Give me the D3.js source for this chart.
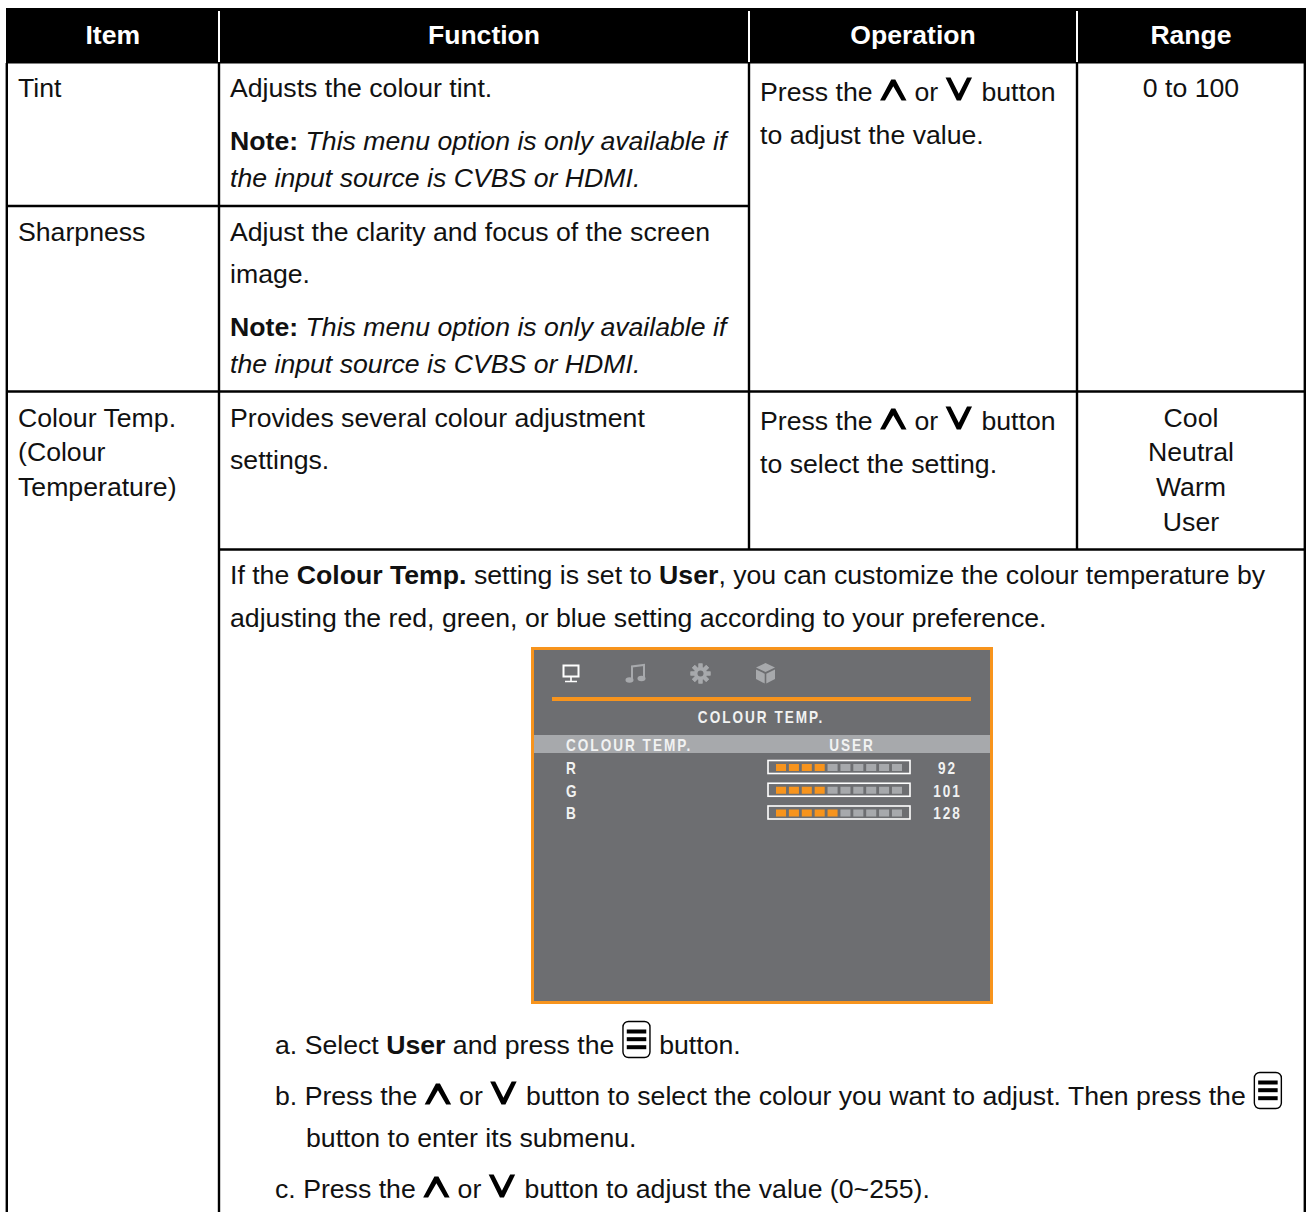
<!DOCTYPE html>
<html><head><meta charset="utf-8">
<script src="https://cdn.jsdelivr.net/npm/d3@7"></script>
<style>html,body{margin:0;padding:0;background:#fff;overflow:hidden}svg{display:block}</style>
</head><body><div id="c"></div>
<script>
const headers = ["Item","Function","Operation","Range"];
// run syntax: plain, {b}, {i}, {icon}
const UP={icon:"up"},DN={icon:"down"},MENU={icon:"menu"};
const note=[{b:"Note: "},{i:"This menu option is only available if"}];
const note2=[{i:"the input source is CVBS or HDMI."}];
const itemText=[["Tint"],["Sharpness"],["Colour Temp."],["(Colour"],["Temperature)"]];
const funcText=[["Adjusts the colour tint."],note,note2,["Adjust the clarity and focus of the screen"],["image."],note,note2,["Provides several colour adjustment"],["settings."]];
const opText=[["Press the ",UP," or ",DN," button"],["to adjust the value."],["Press the ",UP," or ",DN," button"],["to select the setting."]];
const rangeText=["0 to 100","Cool","Neutral","Warm","User"];
const wideText=[
 ["If the ",{b:"Colour Temp."}," setting is set to ",{b:"User"},", you can customize the colour temperature by"],
 ["adjusting the red, green, or blue setting according to your preference."],
 ["a. Select ",{b:"User"}," and press the ",MENU," button."],
 ["b. Press the ",UP," or ",DN," button to select the colour you want to adjust. Then press the ",MENU],
 ["button to enter its submenu."],
 ["c. Press the ",UP," or ",DN," button to adjust the value (0~255)."]];
const osdTitle="COLOUR TEMP.";
const osdRow=["COLOUR TEMP.","USER"];
const channels=["R","G","B"];
const channelValues=[92,101,128];
const segmentCount=[0,1,2,3,4,5,6,7,8,9];

const W=1306,H=1212,FS=26.66,INK="#111";
const svg=d3.select("#c").append("svg").attr("width",W).attr("height",H).attr("viewBox",`0 0 ${W} ${H}`);
svg.append("rect").attr("width",W).attr("height",H).attr("fill","#fff");
const FONT="'Liberation Sans',Arial,sans-serif";

// table frame
const colX=[6.5,219,749,1077,1305];
svg.append("rect").attr("x",6).attr("y",8).attr("width",W-6).attr("height",55.5).attr("fill","#000");
colX.slice(1,4).forEach(x=>svg.append("line").attr("x1",x).attr("x2",x).attr("y1",11).attr("y2",62).attr("stroke","#fff").attr("stroke-width",2));
const rules=[[6,749,206],[6,W,391.5],[219,W,549.5]];
rules.forEach(r=>svg.append("line").attr("x1",r[0]).attr("x2",r[1]).attr("y1",r[2]).attr("y2",r[2]).attr("stroke","#000").attr("stroke-width",2.4));
const vert=[[6.8,63,H],[219,63,H],[749,63,549],[1077,63,549],[1304.8,63,H]];
vert.forEach(v=>svg.append("line").attr("x1",v[0]).attr("x2",v[0]).attr("y1",v[1]).attr("y2",v[2]).attr("stroke","#000").attr("stroke-width",2.4));

headers.forEach((h,i)=>svg.append("text").attr("x",(colX[i]+colX[i+1])/2).attr("y",44).attr("text-anchor","middle")
  .attr("font-family",FONT).attr("font-weight",700).attr("font-size",FS-.1).attr("fill","#fff").text(h));

function icon(g,kind,x,base){
  if(kind==="menu"){
    const top=base-32.5;
    g.append("rect").attr("x",x+1.2).attr("y",top).attr("width",27).attr("height",36).attr("rx",5.5).attr("fill","none").attr("stroke","#000").attr("stroke-width",1.4);
    [8.5,16.2,24.2].forEach(d=>g.append("rect").attr("x",x+5).attr("y",top+d-.5).attr("width",19.5).attr("height",4).attr("fill","#000"));
    return 30;
  }
  const w=26.5,h=kind==="up"?21:23,foot=5,inner=6.8;
  const p=d3.path();
  const y0=kind==="up"?base-.5:base-h-.5;
  const y1=kind==="up"?base-h-.5:base-.5;
  const dir=kind==="up"?1:-1;
  p.moveTo(x,y0);p.lineTo(x+w/2-2,y1);p.lineTo(x+w/2+2,y1);p.lineTo(x+w,y0);p.lineTo(x+w-foot,y0);p.lineTo(x+w/2,y1+dir*inner);p.lineTo(x+foot,y0);p.closePath();
  g.append("path").attr("d",p.toString()).attr("fill","#000");
  return kind==="up"?27:28.5;
}
function line(runs,x,y){
  let cx=x;
  runs.forEach(r=>{
    if(r.icon){cx+=icon(svg,r.icon,cx,y);return;}
    const s=typeof r==="string"?r:(r.b||r.i);
    const t=svg.append("text").attr("x",cx).attr("y",y).attr("font-family",FONT).attr("font-size",FS).attr("fill",INK).style("white-space","pre").text(s);
    if(r.b)t.attr("font-weight",700);
    if(r.i)t.attr("font-style","italic");
    cx+=t.node().getComputedTextLength();
  });
}
const itemY=[97,241,427,461,496];
itemText.forEach((l,i)=>line(l,18,itemY[i]));
const funcY=[97,150,187,241,283,336,373,427,469];
funcText.forEach((l,i)=>line(l,230,funcY[i]));
const opY=[101,144,430,473];
opText.forEach((l,i)=>line(l,760,opY[i]));
const rangeY=[97,427,461,496,531];
rangeText.forEach((s,i)=>svg.append("text").attr("x",1191).attr("y",rangeY[i]).attr("text-anchor","middle").attr("font-family",FONT).attr("font-size",FS).attr("fill",INK).text(s));
const wideX=[230,230,275,275,306,275],wideY=[584,627,1054,1105,1147,1198];
wideText.forEach((l,i)=>line(l,wideX[i],wideY[i]));

// OSD screenshot
const ORANGE="#f7941d",GREY="#6d6e71",LIGHT="#a7a9ac";
svg.append("rect").attr("x",532.5).attr("y",648.5).attr("width",459).attr("height",354).attr("fill",GREY).attr("stroke",ORANGE).attr("stroke-width",3);
svg.append("rect").attr("x",552).attr("y",697).attr("width",419).attr("height",4).attr("fill",ORANGE);
svg.append("rect").attr("x",534).attr("y",735).attr("width",456).attr("height",18).attr("fill",LIGHT);
function osdText(s,x,y,anchor){svg.append("text").attr("transform",`translate(${x},${y}) scale(0.85,1)`).attr("text-anchor",anchor).attr("font-family",FONT).attr("font-weight",700).attr("font-size",16).attr("letter-spacing",2.35).attr("fill","#f1f2f2").text(s);}
osdText(osdTitle,761,723,"middle");
osdText(osdRow[0],566,751,"start");
osdText(osdRow[1],852,751,"middle");

// OSD icons
const ig=svg.append("g");
ig.append("rect").attr("x",563.5).attr("y",665.5).attr("width",15).attr("height",11).attr("fill","none").attr("stroke","#fff").attr("stroke-width",2);
ig.append("path").attr("d","M571 677V681M565 681.5H577").attr("stroke","#fff").attr("stroke-width",1.6);
ig.append("path").attr("d","M632 680V666.5L644 665V678").attr("fill","none").attr("stroke",LIGHT).attr("stroke-width",2);
ig.append("ellipse").attr("cx",629.5).attr("cy",680).attr("rx",4).attr("ry",2.8).attr("fill",LIGHT);
ig.append("ellipse").attr("cx",641.5).attr("cy",678.5).attr("rx",4).attr("ry",2.8).attr("fill",LIGHT);
d3.range(8).forEach(i=>ig.append("rect").attr("x",698.5).attr("y",663.5).attr("width",4).attr("height",20).attr("fill",LIGHT).attr("transform",`rotate(${i*45} 700.5 673.5)`));
ig.append("circle").attr("cx",700.5).attr("cy",673.5).attr("r",6.5).attr("fill",LIGHT);
ig.append("circle").attr("cx",700.5).attr("cy",673.5).attr("r",3).attr("fill",GREY);
ig.append("path").attr("d","M765.5 663L775 667.5L765.5 672L756 667.5Z M756 669.5L764.7 673.7V683.5L756 679Z M775 669.5L766.3 673.7V683.5L775 679Z").attr("fill",LIGHT);

// channel bars
const rowY=d3.scalePoint().domain(channels).range([767,812.5]);
const segX=d3.scaleBand().domain(segmentCount).range([776,902]).paddingInner(0.22).paddingOuter(0);
const filled=d3.scaleLinear().domain([0,255]).range([0,segmentCount.length]);
channels.forEach((c,i)=>{
  const y=rowY(c);
  osdText(c,566,y+6.8,"start");
  svg.append("rect").attr("x",768).attr("y",y-6.5).attr("width",142).attr("height",13).attr("fill","none").attr("stroke","#fff").attr("stroke-width",1.6);
  svg.selectAll(null).data(segmentCount).enter().append("rect")
    .attr("x",d=>segX(d)).attr("y",y-3).attr("width",segX.bandwidth()).attr("height",7)
    .attr("fill",d=>d<Math.round(filled(channelValues[i]))?ORANGE:LIGHT);
  osdText(channelValues[i],947.5,y+6.8,"middle");
});
</script></body></html>
